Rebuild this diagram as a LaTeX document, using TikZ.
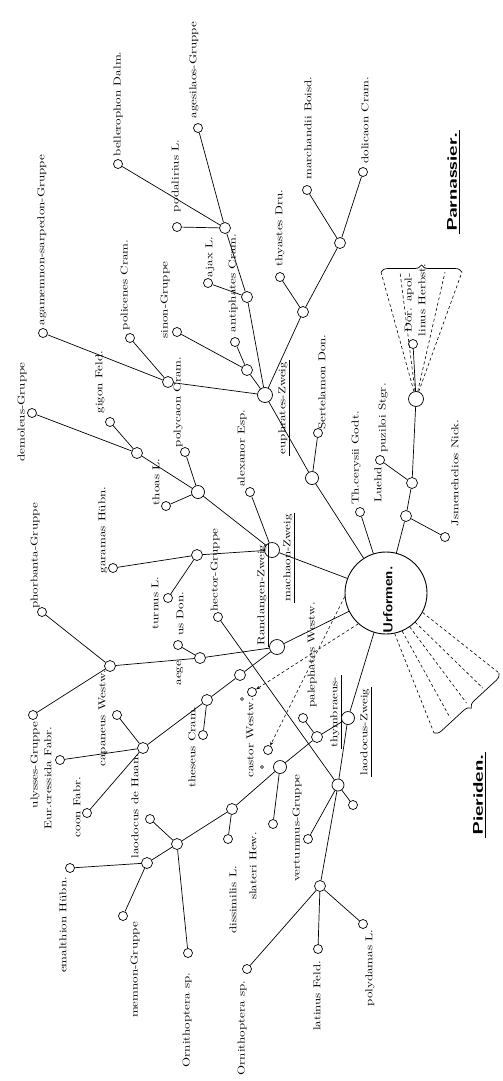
\documentclass[tikz,border=0pt]{standalone}
\usepackage{fontspec}
\usepackage{graphicx}
\usetikzlibrary{decorations.pathreplacing,arrows.meta}
\newcommand{\lb}[1]{\scalebox{1.3}[1]{#1}}
\begin{document}
\begin{tikzpicture}[x=1pt,y=-1pt,
  lbl/.style={rotate=90,inner sep=0pt,font=\fontsize{10}{12}\selectfont},
  ulbl/.style={rotate=90,inner sep=1.5pt,font=\fontsize{10}{12}\selectfont},
  hlbl/.style={rotate=90,inner sep=2pt,font=\fontsize{14}{16}\selectfont\sffamily\bfseries},
  sn/.style={circle,draw,line width=0.7pt,minimum size=9pt,inner sep=0pt,fill=white},
  jn/.style={sn,minimum size=11pt},
  bn/.style={sn,minimum size=15pt},
  tn/.style={circle,draw,line width=0.5pt,minimum size=3pt,inner sep=0pt},
  ln/.style={line width=0.7pt},
  dl/.style={line width=0.6pt,dash pattern=on 3pt off 2.5pt},
  ul/.style={line width=1.1pt},
  br/.style={line width=0.7pt,decorate,decoration={brace,amplitude=7pt}},
  arr/.style={dl,-{Stealth[length=4pt,width=3pt]}}
]
\fill[white] (0,0) rectangle (503,1081);
\useasboundingbox (0,0) rectangle (503,1081);

% ---------- Urformen
\node[circle,draw,line width=0.9pt,minimum size=82pt,inner sep=0pt] (U) at (386,593) {};
\node[hlbl,font=\fontsize{13}{15}\selectfont\sffamily\bfseries] (Ut) at (388,600) {\scalebox{1.12}[1]{Urformen.}};

% ---------- Parnassier
\node[jn] (P1) at (406,516) {};
\node[sn] (jsm) at (445,537) {};
\node[jn] (P2) at (412,483) {};
\node[sn] (puz) at (380,460) {};
\node[bn] (P3) at (416,399) {};
\node[sn] (dor) at (413,344) {};
\node[sn] (thc) at (360,512) {};
\coordinate (pf1) at (381,272);
\coordinate (pf2) at (400,272);
\coordinate (pf3) at (445,272);
\coordinate (pf4) at (462,272);

% ---------- euphrates
\node[jn] (MD) at (340,243) {};
\node[sn] (march) at (307,190) {};
\node[sn] (dol) at (363,172) {};
\node[jn] (J2) at (303,312) {};
\node[sn] (thy) at (280,277) {};
\node[bn] (E) at (265,395) {};
\node[sn,minimum size=13pt] (ES) at (312,478) {};
\node[sn] (sert) at (318,433) {};
\node[jn] (J1) at (225,228) {};
\node[sn] (pod) at (177,227) {};
\node[sn] (age) at (198,128) {};
\node[sn] (bel) at (118,164) {};
\node[jn] (J3) at (247,297) {};
\node[sn] (ajax) at (208,283) {};
\node[jn] (J4) at (247,370) {};
\node[sn] (sinon) at (177,332) {};
\node[sn] (anti) at (235,342) {};
\node[jn] (A) at (168,382) {};
\node[sn] (agam) at (43,333) {};
\node[sn] (polic) at (130,338) {};

% ---------- machaon
\node[bn] (M) at (272,550) {};
\node[sn] (alex) at (250,492) {};
\node[sn,minimum size=13pt] (T) at (198,492) {};
\node[sn] (poly) at (185,452) {};
\node[jn] (DG) at (137,453) {};
\node[sn] (dem) at (32,413) {};
\node[sn] (gig) at (110,422) {};
\node[sn] (thoas) at (166,506) {};
\node[jn] (GJ) at (197,555) {};
\node[sn] (gar) at (113,568) {};
\node[sn] (turn) at (168,598) {};

% ---------- Randangen
\node[bn] (R) at (277,647) {};
\node[jn] (AJ) at (200,658) {};
\node[sn] (aeg) at (178,645) {};
\node[jn] (PJ) at (110,666) {};
\node[sn] (phor) at (42,612) {};
\node[sn] (uly) at (33,715) {};
\node[jn] (RC1) at (240,675) {};
\node[jn] (RC2) at (207,700) {};
\node[sn] (thes) at (203,735) {};
\node[jn] (CJ) at (143,748) {};
\node[sn] (cap) at (117,715) {};
\node[sn] (eur) at (60,760) {};
\node[sn] (coon) at (87,813) {};

% ---------- castor, palephates
\node[sn] (cas1) at (252,692) {};
\node[sn] (cas2) at (268,750) {};
\node[tn] (tk1) at (242,699) {};
\node[tn] (tk2) at (262,767) {};

% ---------- laodocus / thymbraeus
\node[sn,minimum size=13pt] (Thy) at (348,718) {};
\node[jn] (TJ) at (317,737) {};
\node[sn] (pal) at (303,718) {};
\node[sn,minimum size=13pt] (Nv) at (280,767) {};
\node[jn] (N232) at (232,809) {};
\node[sn] (dis) at (228,839) {};
\node[sn] (slat) at (273,824) {};
\node[jn] (Nlao) at (177,844) {};
\node[sn] (lao) at (150,819) {};
\node[jn] (LJ) at (147,863) {};
\node[sn] (emal) at (70,868) {};
\node[sn] (mem) at (123,916) {};
\node[sn] (orn1) at (188,953) {};
\node[sn,minimum size=12pt] (LZ) at (338,785) {};
\node[sn] (hect) at (218,617) {};
\node[sn] (vert) at (308,839) {};
\node[sn] (sm) at (353,805) {};
\node[jn] (LatJ) at (320,886) {};
\node[sn] (orn2) at (247,969) {};
\node[sn] (lat) at (318,949) {};
\node[sn] (pold) at (363,924) {};
\coordinate (qA) at (434,733);
\coordinate (qB) at (499,673);
\coordinate (q2) at (450.25,718);
\coordinate (q3) at (466.5,703);
\coordinate (q4) at (482.75,688);

% ---------- connectors
\begin{scope}[ln]
\draw (U) -- (P1); \draw (P1) -- (jsm); \draw (P1) -- (P2);
\draw (P2) -- (puz); \draw (P2) -- (P3); \draw (P3) -- (dor);
\draw (U) -- (thc);
\draw (U) -- (ES); \draw (ES) -- (sert); \draw (ES) -- (E);
\draw (E) -- (J2); \draw (J2) -- (thy); \draw (J2) -- (MD);
\draw (MD) -- (march); \draw (MD) -- (dol);
\draw (E) -- (J3); \draw (J3) -- (ajax); \draw (J3) -- (J1);
\draw (J1) -- (pod); \draw (J1) -- (age); \draw (J1) -- (bel);
\draw (E) -- (J4); \draw (J4) -- (sinon); \draw (J4) -- (anti);
\draw (E) -- (A); \draw (A) -- (agam); \draw (A) -- (polic);
\draw (U) -- (M); \draw (M) -- (alex); \draw (M) -- (T); \draw (M) -- (GJ);
\draw (T) -- (poly); \draw (T) -- (DG); \draw (DG) -- (dem); \draw (DG) -- (gig);
\draw (T) -- (thoas);
\draw (GJ) -- (gar); \draw (GJ) -- (turn);
\draw (U) -- (R); \draw (R) -- (AJ); \draw (AJ) -- (aeg); \draw (AJ) -- (PJ);
\draw (PJ) -- (phor); \draw (PJ) -- (uly);
\draw (R) -- (RC1); \draw (RC1) -- (RC2); \draw (RC2) -- (thes); \draw (RC2) -- (CJ);
\draw (CJ) -- (cap); \draw (CJ) -- (eur); \draw (CJ) -- (coon);
\draw (U) -- (Thy); \draw (Thy) -- (TJ); \draw (Thy) -- (LZ);
\draw (TJ) -- (pal); \draw (TJ) -- (Nv);
\draw (Nv) -- (N232); \draw (Nv) -- (slat);
\draw (N232) -- (dis); \draw (N232) -- (Nlao);
\draw (Nlao) -- (lao); \draw (Nlao) -- (LJ); \draw (Nlao) -- (orn1);
\draw (LJ) -- (emal); \draw (LJ) -- (mem);
\draw (LZ) -- (hect); \draw (LZ) -- (vert); \draw (LZ) -- (sm); \draw (LZ) -- (LatJ);
\draw (LatJ) -- (orn2); \draw (LatJ) -- (lat); \draw (LatJ) -- (pold);
\end{scope}

% dashed fans and braces
\draw[dl] (P3) -- (pf1); \draw[dl] (P3) -- (pf2); \draw[dl] (P3) -- (pf3); \draw[dl] (P3) -- (pf4);
\draw[br] (pf1) -- (pf4);
\draw[dl] (U.-78) -- (qA); \draw[dl] (U.-67) -- (q2); \draw[dl] (U.-55) -- (q3);
\draw[dl] (U.-45) -- (q4); \draw[dl] (U.-28) -- (qB);
\draw[br] (qB) -- (qA);
\draw[arr] (U.228) -- (cas1);
\draw[arr] (U.185) -- (cas2);

% ---------- labels
\node[lbl] (Lagam) at (42,240) {\lb{agamemnon-sarpedon-Gruppe}};
\node[lbl] (Lbel) at (118,104) {\lb{bellerophon Dalm.}};
\node[lbl] (Lpod) at (176,176) {\lb{podalirius L.}};
\node[lbl] (Lage) at (194,70) {\lb{agesilaos-Gruppe}};
\node[lbl] (Lpolic) at (125,285) {\lb{policenes Cram.}};
\node[lbl] (Lsinon) at (165,300) {\lb{sinon-Gruppe}};
\node[lbl] (Lajax) at (210,257) {\lb{ajax L.}};
\node[lbl] (Lanti) at (233,283) {\lb{antiphates Cram.}};
\node[lbl] (Lthy) at (280,228) {\lb{thyastes Dru.}};
\node[lbl] (Lmarch) at (308,128) {\lb{marchandii Boisd.}};
\node[lbl] (Ldol) at (365,120) {\lb{dolicaon Cram.}};
\node[hlbl] (Lparn) at (452,182) {\scalebox{1.45}[1]{Parnassier.}};
\draw[ul] (Lparn.south west) -- (Lparn.south east);
\node[lbl] (Ldem) at (22,412) {\lb{demoleus-Gruppe}};
\node[lbl] (Lgig) at (100,382) {\lb{gigon Feld.}};
\node[lbl] (Lthoas) at (156,482) {\lb{thoas L.}};
\node[lbl] (Lpoly) at (178,402) {\lb{polycaon Cram.}};
\node[ulbl] (Leup) at (283,408) {\lb{euphrates-Zweig}};
\draw[ul] (Leup.south west) -- (Leup.south east);
\node[lbl] (Lsert) at (322,382) {\lb{Sertelamon Don.}};
\node[lbl] (Lalex) at (242,448) {\lb{alexanor Esp.}};
\node[lbl] (Lthc) at (356,458) {\lb{Th.cerysii Godt.}};
\node[lbl] (Lpuz) at (383,418) {\lb{puziloi Stgr.}};
\node[lbl] (Lluehd) at (378,485) {\lb{Luehd}};
\node[lbl] (Ljsm) at (455,473) {\lb{Jsmenehelios Nick.}};
\node[lbl] (Ldor) at (409,303) {\lb{Dor. apol-}};
\node[lbl] (Llin) at (422,300) {\lb{linus Herbst.}};
\node[lbl] (Lgar) at (103,530) {\lb{garamas Hübn.}};
\node[lbl] (Lturn) at (155,603) {\lb{turnus L.}};
\node[lbl] (Lphor) at (35,556) {\lb{phorbanta-Gruppe}};
\node[lbl] (Lhect) at (215,570) {\lb{hector-Gruppe}};
\node[ulbl] (Lmach) at (288,558) {\lb{machaon-Zweig}};
\draw[ul] (Lmach.south west) -- (Lmach.south east);
\node[ulbl] (Lrand) at (262,595) {\lb{Randangen-Zweig}};
\draw[ul] (Lrand.south west) -- (Lrand.south east);
\node[lbl] (Laeg1) at (180,673) {\lb{aege}};
\node[lbl] (Laeg2) at (180,614) {\lb{us Don.}};
\node[lbl] (Lcap) at (103,718) {\lb{capaneus Westw.}};
\node[lbl] (Luly) at (35,765) {\lb{ulysses-Gruppe}};
\node[lbl] (Leur) at (48,778) {\lb{Eur.cressida Fabr.}};
\node[lbl] (Lcoon) at (77,807) {\lb{coon Fabr.}};
\node[lbl] (Llao) at (135,806) {\lb{laodocus de Haan.}};
\node[lbl] (Lthes) at (192,747) {\lb{theseus Cram.}};
\node[lbl] (Lcas) at (250,738) {\lb{castor Westw.}};
\node[lbl] (Lpal) at (312,655) {\lb{palephates Westw.}};
\node[ulbl] (Lthym) at (335,712) {\lb{thymbraeus-}};
\draw[ul] (Lthym.south west) -- (Lthym.south east);
\node[ulbl] (Llz) at (365,732) {\lb{laodocus-Zweig}};
\draw[ul] (Llz.south west) -- (Llz.south east);
\node[hlbl] (Lpier) at (478,795) {\scalebox{1.45}[1]{Pieriden.}};
\draw[ul] (Lpier.south west) -- (Lpier.south east);
\node[lbl] (Lvert) at (297,828) {\lb{vertumnus-Gruppe}};
\node[lbl] (Lslat) at (253,866) {\lb{slateri Hew.}};
\node[lbl] (Ldis) at (233,900) {\lb{dissimilis L.}};
\node[lbl] (Lemal) at (63,925) {\lb{emalthion Hübn.}};
\node[lbl] (Lmem) at (135,970) {\lb{memnon-Gruppe}};
\node[lbl] (Lorn1) at (187,1020) {\lb{Ornithoptera sp.}};
\node[lbl] (Lorn2) at (242,1028) {\lb{Ornithoptera sp.}};
\node[lbl] (Llat) at (317,996) {\lb{latinus Feld.}};
\node[lbl] (Lpold) at (370,968) {\lb{polydamas L.}};
\end{tikzpicture}
\end{document}
